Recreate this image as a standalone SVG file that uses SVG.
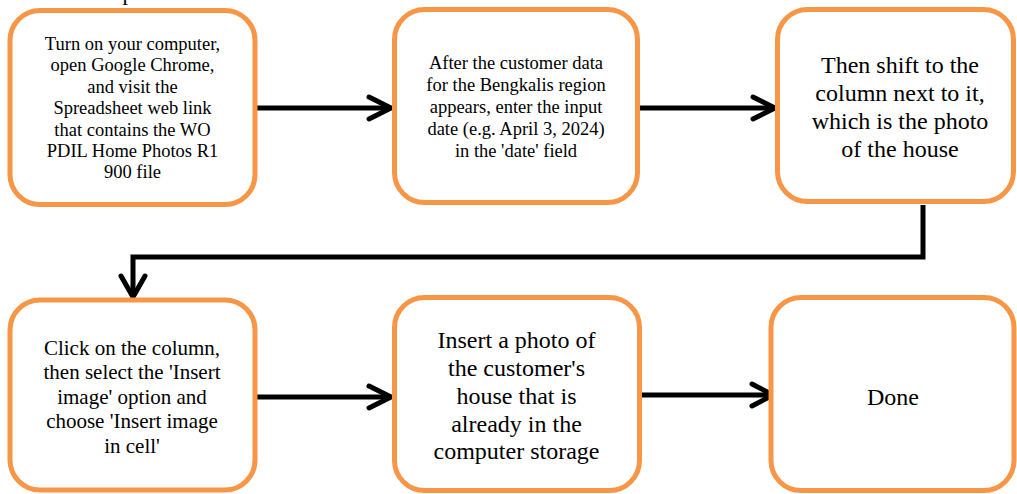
<svg xmlns="http://www.w3.org/2000/svg" width="1017" height="494" viewBox="0 0 1017 494">
<style>
.box{fill:#ffffff;stroke:#F79646;stroke-width:5}
.t{font-family:"Liberation Serif","Times New Roman",serif;fill:#000000;text-anchor:middle}
.c{fill:none;stroke:#000000;stroke-width:5}
.h{fill:none;stroke:#000000;stroke-width:5;stroke-linecap:round;stroke-linejoin:round}
</style>
<rect width="1017" height="494" fill="#ffffff"/>
<text class="t" x="128" y="-0.5" font-size="22">p</text>
<g id="connectors">
<line class="c" x1="257" y1="108" x2="390" y2="108"/>
<polyline class="h" points="369,97 391,108 369,119"/>
<line class="c" x1="640" y1="108" x2="773" y2="108"/>
<polyline class="h" points="753,97 775,108 753,119"/>
<polyline class="c" points="923,205 923,257 133,257 133,296"/>
<polyline class="h" points="121,276 133,297 145,276"/>
<line class="c" x1="257" y1="397" x2="390" y2="397"/>
<polyline class="h" points="369,386 391,397 369,408"/>
<line class="c" x1="642" y1="395" x2="770" y2="395"/>
<polyline class="h" points="752,384 773,395 752,406"/>
</g>
<g id="node1">
<rect class="box" x="10" y="10.5" width="245" height="194" rx="30"/>
<text class="t" font-size="18.5"><tspan x="132.5" y="50">Turn on your computer,</tspan><tspan x="132.5" y="71.4">open Google Chrome,</tspan><tspan x="132.5" y="92.8">and visit the</tspan><tspan x="132.5" y="114.2">Spreadsheet web link</tspan><tspan x="132.5" y="135.6">that contains the WO</tspan><tspan x="132.5" y="157">PDIL Home Photos R1</tspan><tspan x="132.5" y="178.4">900 file</tspan></text>
</g>
<g id="node2">
<rect class="box" x="394.5" y="9.5" width="243" height="193" rx="30"/>
<text class="t" font-size="18.5"><tspan x="516" y="69.3">After the customer data</tspan><tspan x="516" y="91.1">for the Bengkalis region</tspan><tspan x="516" y="112.9">appears, enter the input</tspan><tspan x="516" y="134.7">date (e.g. April 3, 2024)</tspan><tspan x="516" y="156.5">in the 'date' field</tspan></text>
</g>
<g id="node3">
<rect class="box" x="777.5" y="9.5" width="236" height="192" rx="30"/>
<text class="t" font-size="24"><tspan x="900" y="72.7">Then shift to the</tspan><tspan x="900" y="100.7">column next to it,</tspan><tspan x="900" y="128.7">which is the photo</tspan><tspan x="900" y="156.7">of the house</tspan></text>
</g>
<g id="node4">
<rect class="box" x="10" y="300" width="245" height="190" rx="30"/>
<text class="t" font-size="21"><tspan x="132" y="355">Click on the column,</tspan><tspan x="132" y="379.4">then select the 'Insert</tspan><tspan x="132" y="403.8">image' option and</tspan><tspan x="132" y="428.2">choose 'Insert image</tspan><tspan x="132" y="452.6">in cell'</tspan></text>
</g>
<g id="node5">
<rect class="box" x="394.5" y="297.5" width="245" height="193" rx="30"/>
<text class="t" font-size="24"><tspan x="516.5" y="348.3">Insert a photo of</tspan><tspan x="516.5" y="376">the customer's</tspan><tspan x="516.5" y="403.8">house that is</tspan><tspan x="516.5" y="431.5">already in the</tspan><tspan x="516.5" y="459.3">computer storage</tspan></text>
</g>
<g id="node6">
<rect class="box" x="771" y="297.5" width="243" height="193" rx="30"/>
<text class="t" font-size="24" x="893" y="405">Done</text>
</g>
</svg>
